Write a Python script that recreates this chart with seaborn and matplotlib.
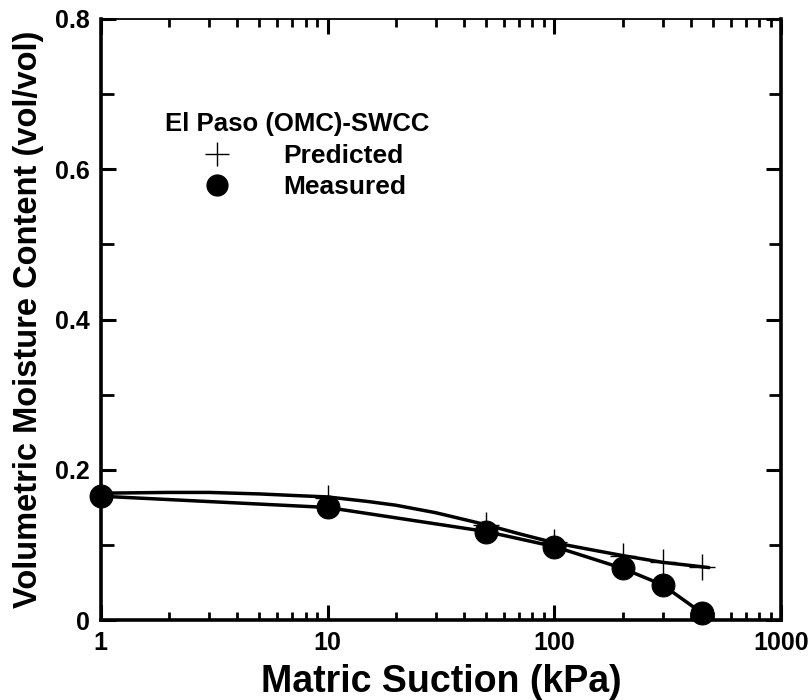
import matplotlib
matplotlib.use("Agg")
import matplotlib.pyplot as plt
import seaborn as sns
import pandas as pd
import numpy as np
from matplotlib.lines import Line2D
from matplotlib.ticker import FixedLocator, FixedFormatter, NullFormatter, LogLocator

# ---- data ----
measured_suction = [1, 10, 50, 100, 200, 300, 450]
measured_theta = [0.165, 0.150, 0.118, 0.098, 0.069, 0.047, 0.009]

predicted_suction = [10, 50, 100, 200, 300, 450]
predicted_theta = [0.163, 0.127, 0.104, 0.085, 0.077, 0.071]

# predicted curve
curve_suction = [1, 2, 3, 5, 7, 10, 15, 20, 30, 40, 50, 70, 100, 150, 200, 300, 450, 480]
curve_theta = [0.169, 0.170, 0.170, 0.168, 0.166, 0.164, 0.158, 0.153, 0.143, 0.134,
               0.127, 0.115, 0.103, 0.093, 0.086, 0.077, 0.071, 0.070]

x_ticks = [1, 10, 100, 1000]
x_ticklabels = ["1", "10", "100", "1000"]
y_ticks = [0, 0.2, 0.4, 0.6, 0.8]
y_ticklabels = ["0", "0.2", "0.4", "0.6", "0.8"]

sns.set_style("ticks")
plt.rcParams["font.family"] = ["Liberation Sans", "DejaVu Sans"]
plt.rcParams["font.weight"] = "bold"
for k in ["text.color", "axes.labelcolor", "xtick.color", "ytick.color", "axes.edgecolor"]:
    plt.rcParams[k] = "black"

fig = plt.figure(figsize=(8.12, 7.0), dpi=100)
ax = fig.add_axes([0.124, 0.114, 0.838, 0.859])

df_m = pd.DataFrame({"s": measured_suction, "t": measured_theta})
df_c = pd.DataFrame({"s": curve_suction, "t": curve_theta})
df_p = pd.DataFrame({"s": predicted_suction, "t": predicted_theta})

sns.lineplot(data=df_c, x="s", y="t", ax=ax, color="black", lw=2.5, sort=True)
sns.lineplot(data=df_m, x="s", y="t", ax=ax, color="black", lw=2.5, sort=True,
             marker="o", markersize=16.5, markeredgecolor="black",
             markerfacecolor="black", clip_on=False)
ax.plot(df_p["s"], df_p["t"], ls="none", marker="+", markersize=19,
        mew=1.0, color="black", clip_on=False)

ax.set_xscale("log")
ax.set_xlim(1, 1000)
ax.set_ylim(0, 0.8)

ax.xaxis.set_major_locator(FixedLocator(x_ticks))
ax.xaxis.set_major_formatter(FixedFormatter(x_ticklabels))
ax.xaxis.set_minor_locator(LogLocator(base=10, subs=np.arange(2, 10)))
ax.xaxis.set_minor_formatter(NullFormatter())
ax.yaxis.set_major_locator(FixedLocator(y_ticks))
ax.yaxis.set_major_formatter(FixedFormatter(y_ticklabels))
ax.yaxis.set_minor_locator(FixedLocator([0.1, 0.3, 0.5, 0.7]))

ax.tick_params(axis="both", which="major", direction="in", length=11, width=2.2,
               top=True, right=True, labelsize=18, pad=8)
ax.tick_params(axis="both", which="minor", direction="in", length=6, width=2.0,
               top=True, right=True)
ax.tick_params(axis="y", which="minor", length=9)
for lab in ax.get_xticklabels() + ax.get_yticklabels():
    lab.set_fontweight("bold")

for side in ["left", "bottom", "right"]:
    ax.spines[side].set_linewidth(2.6)
    ax.spines[side].set_visible(True)
ax.spines["top"].set_linewidth(1.3)
ax.spines["top"].set_visible(True)

ax.set_xlabel("Matric Suction (kPa)", fontsize=27, fontweight="bold", labelpad=6)
ax.set_ylabel("Volumetric Moisture Content (vol/vol)", fontsize=23.5,
              fontweight="bold", labelpad=8)

handles = [
    Line2D([], [], ls="none", marker="+", markersize=17, mew=1.0, color="black"),
    Line2D([], [], ls="none", marker="o", markersize=15, color="black"),
]
leg = ax.legend(handles, ["Predicted", "Measured"], title="El Paso (OMC)-SWCC",
                loc="upper left", bbox_to_anchor=(0.094, 0.845), frameon=False,
                prop={"size": 19, "weight": "bold"},
                title_fontproperties={"size": 18.5, "weight": "bold"},
                alignment="left", handlelength=4.0, handletextpad=0.5,
                labelspacing=0.25, borderaxespad=0, borderpad=0)
leg._legend_box.sep = 6

fig.savefig("out.png", dpi=100)
